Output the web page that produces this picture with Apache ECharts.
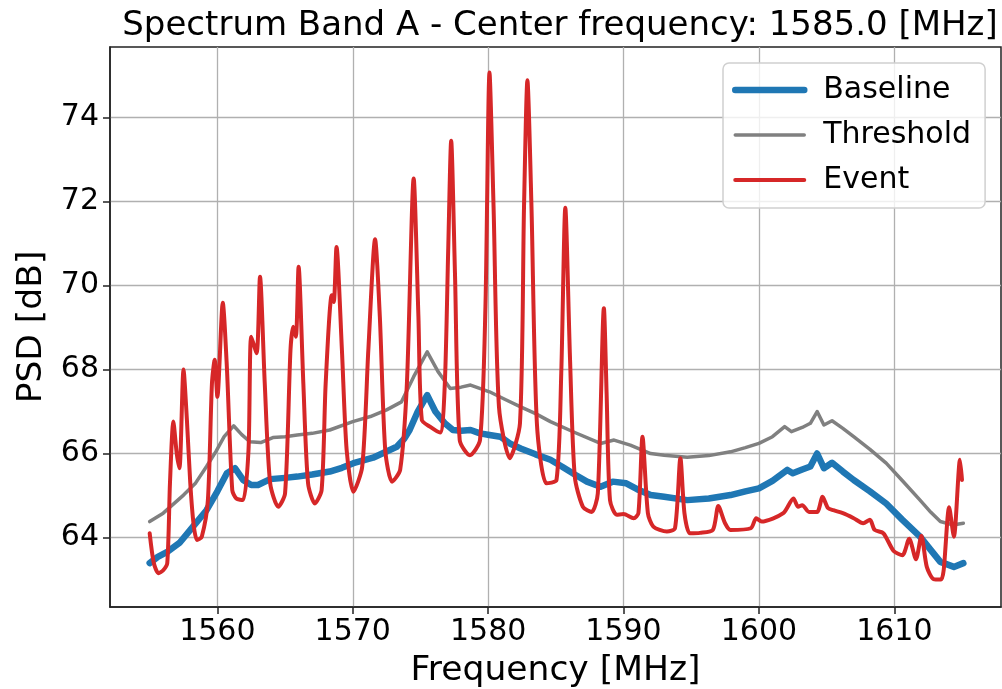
<!DOCTYPE html>
<html>
<head>
<meta charset="utf-8">
<script src="https://cdn.jsdelivr.net/npm/echarts@6/dist/echarts.min.js"></script>
<style>
  html, body { margin: 0; padding: 0; background: #fff; }
  #chart { width: 1002px; height: 689px; }
</style>
</head>
<body>
<div id="chart"></div>
<script>
// tick labels
const xTicks = [1560, 1570, 1580, 1590, 1600, 1610];
const yTicks = [64, 66, 68, 70, 72, 74];

// Baseline
const baseFreq = [1555.0, 1555.6, 1556.3, 1557.2, 1558.2, 1559.2, 1560.0, 1560.7, 1561.3, 1561.9,
  1562.5, 1563.0, 1563.9, 1565.0, 1565.9, 1567.0, 1568.3, 1569.2, 1570.05, 1571.5,
  1573.25, 1573.8, 1574.2, 1574.8, 1575.5, 1576.1, 1576.8, 1577.4, 1578.0, 1578.7,
  1579.4, 1580.1, 1580.9, 1581.6, 1582.4, 1583.5, 1584.6, 1585.5, 1586.4, 1587.3,
  1588.3, 1589.2, 1590.2, 1591.0, 1592.0, 1593.0, 1594.7, 1596.3, 1597.9, 1599.0,
  1600.0, 1601.0, 1602.1, 1602.5, 1603.2, 1603.8, 1604.3, 1604.8, 1605.4, 1606.2,
  1607.0, 1608.2, 1609.4, 1610.6, 1611.9, 1612.7, 1613.4, 1614.4, 1615.1];
const baseVal = [63.39, 63.54, 63.66, 63.87, 64.26, 64.65, 65.10, 65.53, 65.65, 65.37,
  65.25, 65.25, 65.39, 65.42, 65.45, 65.50, 65.57, 65.66, 65.77, 65.90,
  66.16, 66.35, 66.56, 67.00, 67.39, 67.00, 66.72, 66.56, 66.54, 66.56,
  66.48, 66.44, 66.40, 66.24, 66.12, 65.98, 65.85, 65.68, 65.50, 65.33,
  65.21, 65.33, 65.29, 65.15, 65.01, 64.97, 64.89, 64.93, 65.01, 65.10,
  65.17, 65.35, 65.61, 65.53, 65.62, 65.69, 66.00, 65.65, 65.78, 65.57,
  65.37, 65.10, 64.81, 64.42, 64.02, 63.70, 63.42, 63.30, 63.39];

// Threshold
const thrFreq = [1555.0, 1556.0, 1557.5, 1558.4, 1559.2, 1559.9, 1560.5, 1561.2, 1561.8, 1562.4,
  1563.2, 1564.1, 1565.0, 1565.9, 1567.0, 1568.3, 1570.0, 1571.3, 1572.5, 1573.6,
  1574.5, 1575.5, 1576.3, 1577.2, 1578.0, 1578.7, 1580.1, 1581.3, 1582.4, 1583.5,
  1584.6, 1586.4, 1588.3, 1589.3, 1590.5, 1592.0, 1593.0, 1594.7, 1596.3, 1597.9,
  1599.0, 1600.0, 1601.0, 1601.9, 1602.4, 1603.2, 1603.8, 1604.3, 1604.8, 1605.4,
  1606.2, 1607.0, 1608.2, 1609.4, 1610.6, 1611.9, 1612.7, 1613.4, 1614.3, 1615.1];
const thrVal = [64.38, 64.58, 65.01, 65.30, 65.69, 66.05, 66.40, 66.66, 66.45, 66.28,
  66.26, 66.38, 66.40, 66.44, 66.48, 66.56, 66.76, 66.88, 67.04, 67.23,
  67.83, 68.42, 67.95, 67.55, 67.58, 67.63, 67.47, 67.28, 67.11, 66.95,
  66.76, 66.50, 66.24, 66.32, 66.20, 66.00, 65.96, 65.91, 65.95, 66.04,
  66.14, 66.24, 66.40, 66.64, 66.52, 66.62, 66.72, 67.00, 66.68, 66.78,
  66.60, 66.40, 66.10, 65.77, 65.35, 64.89, 64.60, 64.38, 64.30, 64.34];

// Event
const evtFreq = [1555.0, 1555.3, 1555.65, 1556.0, 1556.3, 1556.5, 1556.75, 1557.0, 1557.2, 1557.5,
  1557.75, 1558.0, 1558.25, 1558.5, 1558.85, 1559.3, 1559.6, 1559.8, 1560.0, 1560.4,
  1560.7, 1561.1, 1561.4, 1561.9, 1562.3, 1562.5, 1562.9, 1563.15, 1563.5, 1563.9,
  1564.5, 1565.0, 1565.4, 1565.6, 1565.8, 1566.0, 1566.35, 1566.7, 1567.2, 1567.7,
  1568.0, 1568.45, 1568.6, 1568.8, 1569.2, 1569.55, 1570.05, 1570.7, 1571.15, 1571.65,
  1572.0, 1572.4, 1572.9, 1573.5, 1574.0, 1574.5, 1574.85, 1575.1, 1575.7, 1576.45,
  1576.8, 1577.05, 1577.27, 1577.55, 1577.9, 1578.65, 1579.4, 1579.8, 1580.1, 1580.4,
  1580.8, 1581.6, 1582.35, 1582.65, 1582.9, 1583.2, 1583.6, 1584.3, 1585.05, 1585.4,
  1585.7, 1586.05, 1586.4, 1587.0, 1587.65, 1588.1, 1588.55, 1588.75, 1589.0, 1589.5,
  1590.0, 1590.75, 1591.1, 1591.4, 1591.8, 1592.2, 1593.2, 1593.8, 1594.2, 1594.5,
  1594.9, 1595.65, 1596.6, 1597.0, 1597.5, 1597.9, 1599.4, 1599.8, 1600.2, 1601.8,
  1602.55, 1602.9, 1603.2, 1603.7, 1604.3, 1604.7, 1605.1, 1605.5, 1606.2, 1607.0,
  1607.7, 1608.2, 1608.55, 1609.2, 1609.95, 1610.6, 1611.1, 1611.6, 1612.0, 1612.4,
  1612.9, 1613.45, 1613.65, 1614.05, 1614.4, 1614.85, 1615.0];
const evtVal = [64.10, 63.40, 63.15, 63.22, 63.39, 65.30, 66.76, 66.00, 65.65, 68.00,
  66.80, 65.29, 64.30, 63.94, 64.02, 64.89, 67.67, 68.23, 67.35, 69.59,
  68.07, 65.13, 64.93, 64.89, 66.08, 68.78, 68.39, 70.21, 67.67, 65.29,
  64.73, 65.05, 68.46, 69.02, 68.78, 70.45, 67.67, 65.29, 64.81, 65.13,
  67.67, 69.77, 69.61, 70.92, 68.46, 66.08, 65.09, 65.69, 68.46, 71.10,
  69.26, 66.08, 65.33, 65.61, 67.67, 72.55, 69.26, 66.80, 66.64, 66.50,
  67.67, 70.85, 73.45, 70.29, 66.32, 65.96, 66.32, 69.50, 75.07, 71.88,
  67.11, 65.89, 66.72, 71.88, 74.89, 71.88, 66.72, 65.29, 65.37, 67.91,
  71.85, 68.23, 65.45, 64.73, 64.61, 65.05, 69.46, 67.43, 64.89, 64.54,
  64.56, 64.46, 64.58, 66.40, 64.58, 64.26, 64.14, 64.22, 65.89, 64.58,
  64.10, 64.11, 64.18, 64.75, 64.34, 64.18, 64.22, 64.46, 64.38, 64.58,
  64.93, 64.73, 64.77, 64.61, 64.61, 64.97, 64.70, 64.65, 64.58, 64.46,
  64.34, 64.42, 64.18, 64.10, 63.68, 63.58, 63.97, 63.48, 64.04, 63.30,
  63.01, 63.00, 63.23, 64.72, 64.02, 65.85, 65.37];

function zip(xs, ys) {
  return xs.map((x, i) => [x, ys[i]]);
}

const FONT = "DejaVu Sans";
const gridColor = "#b0b0b0";
const frameColor = "#222";

const option = {
  animation: false,
  backgroundColor: "#fff",
  title: {
    text: "Spectrum Band A - Center frequency: 1585.0 [MHz]",
    left: 555,
    top: 4,
    textAlign: "center",
    textStyle: { fontFamily: FONT, fontSize: 34, fontWeight: "normal", color: "#000" },
  },
  legend: {
    left: 723,
    top: 63,
    orient: "vertical",
    padding: [12, 14, 13, 9],
    itemWidth: 69,
    itemHeight: 14,
    itemGap: 15,
    backgroundColor: "rgba(255,255,255,0.8)",
    borderColor: "#d0d0d0",
    borderWidth: 1.5,
    borderRadius: 6,
    lineStyle: { width: "inherit" },
    itemStyle: { color: "transparent", borderWidth: 0, opacity: 0 },
    textStyle: { fontFamily: FONT, fontSize: 30, color: "#000", padding: [0, 0, 0, 14] },
    data: ["Baseline", "Threshold", "Event"],
  },
  grid: {
    left: 110,
    right: 1,
    top: 47,
    bottom: 82,
    outerBoundsMode: "none",
    containLabel: false,
    show: true,
    borderColor: frameColor,
    borderWidth: 1.5,
  },
  xAxis: {
    type: "value",
    min: 1552.07,
    max: 1617.88,
    name: "Frequency [MHz]",
    nameLocation: "middle",
    nameGap: 47,
    nameTextStyle: { fontFamily: FONT, fontSize: 34.5, color: "#000" },
    axisLine: { show: true, onZero: false, lineStyle: { color: frameColor, width: 1.5 } },
    axisTick: { show: true, inside: false, length: 7, customValues: xTicks, lineStyle: { color: frameColor, width: 1.5 } },
    axisLabel: { customValues: xTicks, formatter: (v) => String(v), margin: 10, fontFamily: FONT, fontSize: 30, color: "#000" },
    splitLine: { show: true, lineStyle: { color: gridColor, width: 1.3 } },
  },
  yAxis: {
    type: "value",
    min: 62.345,
    max: 75.68,
    name: "PSD [dB]",
    nameLocation: "middle",
    nameGap: 54,
    nameTextStyle: { fontFamily: FONT, fontSize: 34.5, color: "#000" },
    axisLine: { show: true, lineStyle: { color: frameColor, width: 1.5 } },
    axisTick: { show: true, inside: false, length: 7, customValues: yTicks, lineStyle: { color: frameColor, width: 1.5 } },
    axisLabel: { customValues: yTicks, formatter: (v) => String(v), margin: 11, fontFamily: FONT, fontSize: 30, color: "#000" },
    splitLine: { show: true, lineStyle: { color: gridColor, width: 1.3 } },
  },
  series: [
    {
      name: "Baseline",
      type: "line",
      symbol: "none",
      data: zip(baseFreq, baseVal),
      lineStyle: { color: "#1f77b4", width: 6.5, cap: "round", join: "round" },
      itemStyle: { color: "#1f77b4" },
      z: 2,
    },
    {
      name: "Threshold",
      type: "line",
      symbol: "none",
      data: zip(thrFreq, thrVal),
      lineStyle: { color: "#808080", width: 3.5, cap: "round", join: "round" },
      itemStyle: { color: "#808080" },
      z: 3,
    },
    {
      name: "Event",
      type: "line",
      symbol: "none",
      smooth: 0.25,
      data: zip(evtFreq, evtVal),
      lineStyle: { color: "#d62728", width: 4, cap: "round", join: "round" },
      itemStyle: { color: "#d62728" },
      z: 4,
    },
  ],
};

const myChart = echarts.init(document.getElementById("chart"));
myChart.setOption(option);
</script>
</body>
</html>
